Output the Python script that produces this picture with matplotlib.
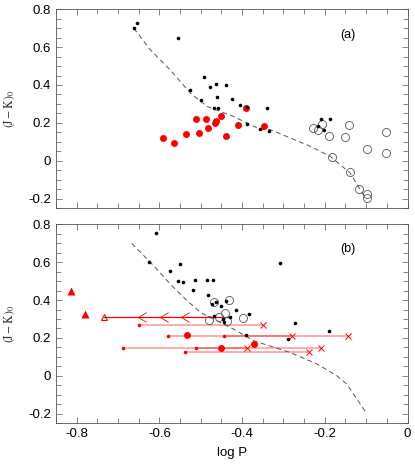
import matplotlib
matplotlib.use("Agg")
import matplotlib.pyplot as plt
from matplotlib.path import Path
from matplotlib.ticker import MultipleLocator
import numpy as np

plt.rcParams['font.family'] = ['Liberation Sans', 'DejaVu Sans']
plt.rcParams['axes.unicode_minus'] = False
plt.rcParams['mathtext.fontset'] = 'stix'

# ---- panel (a) ----
a_black_x = [-0.662, -0.655, -0.555, -0.492, -0.527, -0.477, -0.463, -0.440, -0.461, -0.499,
             -0.424, -0.469, -0.459, -0.404, -0.389, -0.388, -0.357, -0.340, -0.335, -0.209,
             -0.187, -0.217, -0.201]
a_black_y = [0.700, 0.726, 0.651, 0.443, 0.371, 0.389, 0.403, 0.398, 0.334, 0.322,
             0.327, 0.280, 0.281, 0.296, 0.285, 0.195, 0.167, 0.281, 0.158, 0.218,
             0.220, 0.181, 0.160]
a_red_x = [-0.592, -0.564, -0.535, -0.512, -0.504, -0.488, -0.482, -0.466, -0.463, -0.451,
           -0.438, -0.409, -0.391, -0.347]
a_red_y = [0.120, 0.091, 0.141, 0.220, 0.148, 0.222, 0.172, 0.199, 0.209, 0.236,
           0.130, 0.186, 0.280, 0.185]
a_open_x = [-0.228, -0.217, -0.207, -0.191, -0.182, -0.151, -0.142, -0.140, -0.117, -0.099,
            -0.099, -0.098, -0.052, -0.052]
a_open_y = [0.172, 0.162, 0.192, 0.130, 0.021, 0.127, 0.190, -0.060, -0.150, -0.174,
            -0.195, 0.063, 0.153, 0.042]
a_line_x = [-0.662, -0.622, -0.574, -0.525, -0.485, -0.421, -0.358, -0.332, -0.235, -0.187,
            -0.139, -0.102]
a_line_y = [0.700, 0.586, 0.480, 0.357, 0.287, 0.234, 0.167, 0.164, 0.076, 0.023,
            -0.065, -0.197]

# ---- panel (b) ----
b_black_x = [-0.609, -0.625, -0.574, -0.551, -0.556, -0.542, -0.513, -0.485, -0.471, -0.519,
             -0.483, -0.472, -0.463, -0.452, -0.438, -0.469, -0.447, -0.445, -0.429, -0.414,
             -0.384, -0.390, -0.308, -0.272, -0.290, -0.191]
b_black_y = [0.754, 0.604, 0.555, 0.589, 0.499, 0.493, 0.507, 0.507, 0.507, 0.455,
             0.426, 0.377, 0.388, 0.368, 0.393, 0.317, 0.300, 0.282, 0.312, 0.349,
             0.326, 0.215, 0.594, 0.278, 0.192, 0.236]
b_open_x = [-0.469, -0.432, -0.442, -0.481, -0.457, -0.437, -0.398]
b_open_y = [0.388, 0.400, 0.330, 0.296, 0.308, 0.291, 0.305]
b_line_x = [-0.667, -0.614, -0.574, -0.533, -0.501, -0.477, -0.421, -0.372, -0.284, -0.219,
            -0.171, -0.147, -0.102]
b_line_y = [0.700, 0.582, 0.485, 0.397, 0.335, 0.308, 0.247, 0.185, 0.123, 0.062,
            0.000, -0.044, -0.190]

# period ranges: start (small dot) -> end (cross)
rng_x0 = [-0.650, -0.580, -0.443, -0.689, -0.511, -0.538]
rng_x1 = [-0.349, -0.280, -0.143, -0.388, -0.209, -0.238]
rng_y = [0.270, 0.212, 0.212, 0.146, 0.149, 0.127]
big_red_x = [-0.533, -0.451, -0.371]
big_red_y = [0.215, 0.148, 0.168]
tri_x = [-0.813, -0.780]
tri_y = [0.449, 0.328]
upper_x0, upper_x1, upper_y = -0.733, -0.429, 0.312
chev_x = [-0.642, -0.590, -0.538]

fig = plt.figure(figsize=(4.15, 4.68), dpi=100)
ax1 = fig.add_axes([0.135, 0.5556, 0.847, 0.4245])
ax2 = fig.add_axes([0.135, 0.0962, 0.847, 0.4242])

gray = '#555555'
fmt = plt.FuncFormatter(lambda v, p: '0' if abs(v) < 1e-9 else f'{v:.1f}')
for ax in (ax1, ax2):
    ax.set_xlim(-0.85, 0)
    ax.set_ylim(-0.25, 0.8)
    ax.xaxis.set_major_locator(MultipleLocator(0.2))
    ax.xaxis.set_minor_locator(MultipleLocator(0.05))
    ax.yaxis.set_major_locator(MultipleLocator(0.2))
    ax.yaxis.set_minor_locator(MultipleLocator(0.05))
    ax.tick_params(which='both', direction='in', top=True, right=True,
                   width=0.5, color=gray, labelsize=9.5)
    ax.tick_params(which='major', length=4)
    ax.tick_params(which='minor', length=3.5)
    for s in ax.spines.values():
        s.set_linewidth(0.6)
        s.set_color(gray)
    ax.xaxis.set_major_formatter(fmt)
    ax.yaxis.set_major_formatter(fmt)
    ax.set_ylabel(r'$\mathrm{(J-K)_0}$', fontsize=8.5, color='#333333', labelpad=8)

ax1.tick_params(labelbottom=False)

# panel (a)
ax1.plot(a_line_x, a_line_y, color=gray, lw=0.7, dashes=(5, 3.5))
ax1.plot(a_open_x, a_open_y, 'o', ms=5.8, mfc='none', mec=gray, mew=0.6)
ax1.plot(a_red_x, a_red_y, 'o', ms=5, color='red', mec='none')
ax1.plot(a_black_x, a_black_y, 'o', ms=2.6, color='black', mec='none')
ax1.text(0.83, 0.87, '(a)', transform=ax1.transAxes, ha='center', va='center', fontsize=9)

# panel (b)
ax2.plot(b_line_x, b_line_y, color=gray, lw=0.7, dashes=(5, 3.5))
for x0, x1, y in zip(rng_x0, rng_x1, rng_y):
    ax2.plot([x0, x1], [y, y], color='red', alpha=0.35, lw=1.3, solid_capstyle='butt')
    ax2.plot(x0, y, 'o', ms=2.6, color='red', mec='none')
    ax2.plot(x1, y, 'x', ms=4.5, color='red', mew=0.7)
ax2.plot([upper_x0, upper_x1], [upper_y, upper_y], color='red', lw=0.9)
chev = Path([(0.42, 0.5), (-0.42, 0.0), (0.42, -0.5)], [Path.MOVETO, Path.LINETO, Path.LINETO])
ax2.plot(chev_x, [upper_y] * len(chev_x), ls='none', marker=chev, ms=7, mfc='none', mec='red', mew=0.6)
ax2.plot(upper_x0, upper_y, '^', ms=5, mfc='none', mec='red', mew=0.8)
ax2.plot(tri_x, tri_y, '^', ms=5.5, color='red', mec='none')
ax2.plot(big_red_x, big_red_y, 'o', ms=5, color='red', mec='none')
ax2.plot(b_open_x, b_open_y, 'o', ms=5.8, mfc='none', mec=gray, mew=0.6)
ax2.plot(b_black_x, b_black_y, 'o', ms=2.6, color='black', mec='none')
ax2.text(0.83, 0.875, '(b)', transform=ax2.transAxes, ha='center', va='center', fontsize=9)
ax2.set_xlabel('log P', fontsize=9.5, labelpad=5)

fig.savefig('out.png', dpi=100)
